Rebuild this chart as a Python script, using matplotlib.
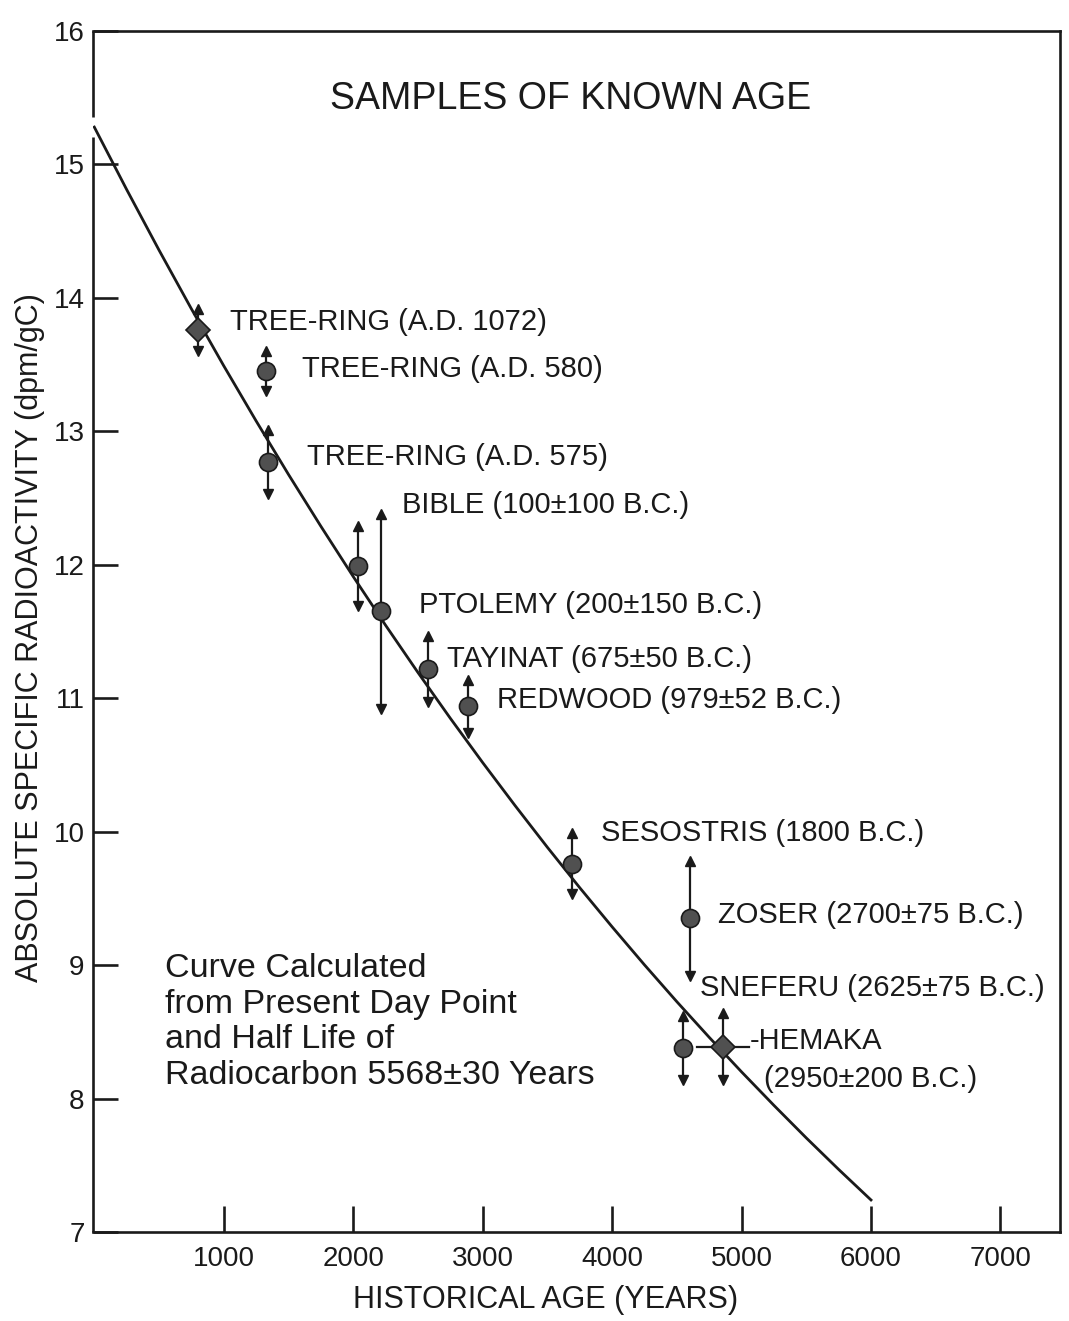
import matplotlib
matplotlib.use("Agg")
import matplotlib.pyplot as plt

# ---------------- data ----------------
curve_age = [0, 250, 500, 750, 1000, 1250, 1500, 1750, 2000, 2250, 2500, 2750, 3000,
             3250, 3500, 3750, 4000, 4250, 4500, 4750, 5000, 5250, 5500, 5750, 6000]
curve_act = [15.280, 14.812, 14.358, 13.918, 13.491, 13.078, 12.677, 12.289, 11.912,
             11.547, 11.193, 10.850, 10.518, 10.196, 9.883, 9.580, 9.287, 9.002, 8.726,
             8.459, 8.200, 7.949, 7.705, 7.469, 7.240]

sample_names = ["TREE-RING (A.D. 1072)", "TREE-RING (A.D. 580)", "TREE-RING (A.D. 575)",
                "BIBLE (100\u00b1100 B.C.)", "PTOLEMY (200\u00b1150 B.C.)", "TAYINAT (675\u00b150 B.C.)",
                "REDWOOD (979\u00b152 B.C.)", "SESOSTRIS (1800 B.C.)", "ZOSER (2700\u00b175 B.C.)",
                "SNEFERU (2625\u00b175 B.C.)", "-HEMAKA\n(2950\u00b1200 B.C.)"]
sample_age = [803, 1328, 1344, 2039, 2216, 2579, 2888, 3691, 4602, 4548, 4857]
sample_act = [13.76, 13.45, 12.77, 11.99, 11.65, 11.22, 10.94, 9.76, 9.35, 8.38, 8.39]
sample_err = [0.16, 0.15, 0.24, 0.30, 0.73, 0.25, 0.20, 0.23, 0.43, 0.24, 0.25]
sample_xerr = [0, 0, 0, 0, 0, 0, 0, 0, 0, 0, 200]
sample_marker = ["D", "o", "o", "o", "o", "o", "o", "o", "o", "o", "D"]

x_ticks = [1000, 2000, 3000, 4000, 5000, 6000, 7000]
y_ticks = [7, 8, 9, 10, 11, 12, 13, 14, 15, 16]

title_text = "SAMPLES OF KNOWN AGE"
note_text = "Curve Calculated\nfrom Present Day Point\nand Half Life of\nRadiocarbon 5568\u00b130 Years"
xlabel_text = "HISTORICAL AGE (YEARS)"
ylabel_text = "ABSOLUTE SPECIFIC RADIOACTIVITY (dpm/gC)"

# ---------------- layout ----------------
W, H = 1069, 1321
plt.rcParams['font.family'] = ['Liberation Sans', 'DejaVu Sans']
fig = plt.figure(figsize=(W / 100, H / 100), dpi=100)

def fx(px):
    return px / W

def fy(py):
    return 1 - py / H

ax = fig.add_axes([fx(93), fy(1232), fx(1060) - fx(93), fy(31) - fy(1232)])
ax.set_xlim(-10, 7460)
ax.set_ylim(7, 16)

ink = "#1a1a1a"
for s in ax.spines.values():
    s.set_linewidth(1.9)
    s.set_color(ink)
# left spine drawn with a small break where the curve starts
ax.spines['left'].set_visible(False)
ax.plot([0, 0], [0, 0.912], transform=ax.transAxes, color=ink, lw=1.9, clip_on=False,
        solid_capstyle='butt')
ax.plot([0, 0], [0.928, 1.0], transform=ax.transAxes, color=ink, lw=1.9, clip_on=False,
        solid_capstyle='butt')

ax.set_xticks(x_ticks)
ax.set_yticks(y_ticks)
ax.tick_params(axis='x', direction='in', length=19, width=1.9, colors=ink,
               labelsize=20, pad=10)
ax.tick_params(axis='y', direction='in', length=18, width=1.9, colors=ink,
               labelsize=20, pad=6)

# curve
ax.plot(curve_age, curve_act, color=ink, lw=2.0, zorder=2)

# samples
for xa, ya, e, xe, m in zip(sample_age, sample_act, sample_err, sample_xerr, sample_marker):
    ax.plot([xa, xa], [ya - e, ya + e], color=ink, lw=1.6, zorder=3)
    ax.plot([xa], [ya + e], marker='^', ms=7, color=ink, zorder=3)
    ax.plot([xa], [ya - e], marker='v', ms=7, color=ink, zorder=3)
    if xe:
        ax.plot([xa - xe, xa + xe], [ya, ya], color=ink, lw=1.6, zorder=3)
    ms = 13 if m == 'o' else 12
    ax.plot([xa], [ya], marker=m, ms=ms, markerfacecolor="#505050",
            markeredgecolor=ink, markeredgewidth=1.2, zorder=4)

# labels (positions in pixels: left x, center y)
label_pos = [(230, 322), (302, 369), (307, 457), (402, 505), (419, 605), (447, 659),
             (497, 700), (601, 833), (718, 915), (700, 988), (750, 1041)]
fs_lab = 21
for name, (lx, ly) in zip(sample_names, label_pos):
    if "\n" in name:
        first, second = name.split("\n")
        fig.text(fx(lx), fy(ly), first, fontsize=fs_lab, color=ink, ha='left', va='center')
        fig.text(fx(lx + 14), fy(ly + 38), second, fontsize=fs_lab, color=ink, ha='left', va='center')
    else:
        fig.text(fx(lx), fy(ly), name, fontsize=fs_lab, color=ink, ha='left', va='center')

fig.text(fx(571), fy(99), title_text, fontsize=27, color=ink, ha='center', va='center')
fig.text(fx(165), fy(1022), note_text, fontsize=24.5, color=ink, ha='left', va='center',
         linespacing=1.2)

fig.text(fx(546), fy(1300), xlabel_text, fontsize=22, color=ink, ha='center', va='center')
fig.text(fx(30), fy(638), ylabel_text, fontsize=22, color=ink, ha='center', va='center',
         rotation=90)

fig.savefig("out.png", dpi=100, facecolor="white")
